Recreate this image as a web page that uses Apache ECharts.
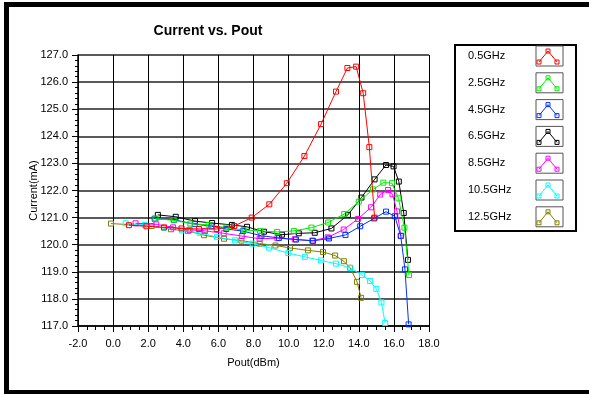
<!DOCTYPE html>
<html>
<head>
<meta charset="utf-8">
<script src="https://cdn.jsdelivr.net/npm/echarts@6/dist/echarts.min.js"></script>
<style>
  html, body { margin: 0; padding: 0; background: #ffffff; }
  #chart { width: 589px; height: 394px; }
</style>
</head>
<body>
<div id="chart"></div>
<script>
// Frequency sweep: supply current against output power
const seriesNames = ['0.5GHz', '2.5GHz', '4.5GHz', '6.5GHz', '8.5GHz', '10.5GHz', '12.5GHz'];
const seriesColors = ['#ff0000', '#00ee00', '#0030ff', '#000000', '#ff00ff', '#00ffff', '#808000'];

const pout_0_5 = [0.9, 1.9, 2.9, 3.9, 4.9, 5.9, 6.9, 7.9, 8.9, 9.9, 10.9, 11.85, 12.7, 13.35, 13.85, 14.25, 14.6, 14.9];
const current_0_5 = [120.72, 120.68, 120.64, 120.6, 120.58, 120.58, 120.69, 121.0, 121.49, 122.27, 123.27, 124.45, 125.65, 126.52, 126.57, 125.59, 123.6, 121.0];

const pout_2_5 = [2.42, 3.45, 4.4, 5.45, 6.45, 7.44, 8.37, 9.35, 10.3, 11.3, 12.25, 13.17, 14.0, 14.81, 15.4, 15.89, 16.26, 16.6, 16.86];
const current_2_5 = [120.96, 120.9, 120.78, 120.73, 120.63, 120.54, 120.51, 120.47, 120.51, 120.63, 120.82, 121.13, 121.59, 122.04, 122.29, 122.27, 121.71, 120.63, 118.88];

const pout_4_5 = [2.37, 3.47, 4.65, 5.6, 6.45, 7.4, 8.45, 9.45, 10.42, 11.39, 12.3, 13.24, 14.08, 14.87, 15.55, 16.05, 16.39, 16.63, 16.84];
const current_4_5 = [120.96, 120.92, 120.76, 120.68, 120.58, 120.5, 120.33, 120.25, 120.19, 120.14, 120.23, 120.36, 120.68, 120.97, 121.22, 121.05, 120.33, 119.09, 117.06];

const pout_6_5 = [2.55, 3.57, 4.67, 5.64, 6.77, 7.63, 8.6, 9.62, 10.58, 11.49, 12.44, 13.38, 14.15, 14.9, 15.55, 15.98, 16.28, 16.56, 16.8];
const current_6_5 = [121.1, 121.03, 120.87, 120.8, 120.73, 120.66, 120.48, 120.37, 120.42, 120.44, 120.6, 121.1, 121.74, 122.41, 122.94, 122.89, 122.33, 121.17, 119.44];

const pout_8_5 = [1.28, 2.46, 3.42, 4.35, 5.24, 6.3, 7.33, 8.35, 9.36, 10.35, 11.35, 12.23, 13.14, 13.95, 14.7, 15.22, 15.67, 15.92, 16.18, 16.4];
const current_8_5 = [120.79, 120.75, 120.64, 120.55, 120.51, 120.42, 120.32, 120.22, 120.24, 120.2, 120.15, 120.27, 120.56, 120.95, 121.38, 121.85, 122.02, 121.86, 121.23, 120.32];

const pout_10_5 = [0.72, 1.8, 2.9, 3.91, 4.93, 5.92, 6.95, 7.95, 8.88, 9.98, 10.93, 11.85, 12.7, 13.52, 14.18, 14.64, 15.0, 15.29, 15.5];
const current_10_5 = [120.79, 120.73, 120.62, 120.53, 120.44, 120.28, 120.16, 120.04, 119.89, 119.69, 119.55, 119.42, 119.3, 119.14, 118.88, 118.66, 118.37, 117.87, 117.11];

const pout_12_5 = [-0.12, 2.2, 3.3, 4.27, 5.18, 6.32, 7.31, 8.35, 9.25, 10.08, 11.1, 11.96, 12.65, 13.15, 13.5, 13.9, 14.13];
const current_12_5 = [120.78, 120.69, 120.57, 120.51, 120.35, 120.22, 120.15, 120.04, 119.97, 119.88, 119.79, 119.73, 119.6, 119.39, 119.15, 118.63, 118.04];

const poutSets = [pout_0_5, pout_2_5, pout_4_5, pout_6_5, pout_8_5, pout_10_5, pout_12_5];
const currentSets = [current_0_5, current_2_5, current_4_5, current_6_5, current_8_5, current_10_5, current_12_5];

const xTicks = [-2, 0, 2, 4, 6, 8, 10, 12, 14, 16, 18];
const yTicks = [117, 118, 119, 120, 121, 122, 123, 124, 125, 126, 127];

const FONT = '"Liberation Sans", Arial, sans-serif';

// Lines with hollow square markers; the lowest frequency is drawn last (on top)
const series = seriesNames.map((name, i) => ({
  name: name,
  type: 'line',
  data: poutSets[i].map((p, k) => [p, currentSets[i][k]]),
  symbol: 'rect',
  symbolSize: 5,
  showSymbol: true,
  z: 10 - i,
  lineStyle: { color: seriesColors[i], width: 1 },
  itemStyle: { color: 'rgba(255,255,255,0)', borderColor: seriesColors[i], borderWidth: 1 },
  emphasis: { disabled: true },
  animation: false
}));

// Custom legend panel: name plus a small sample trace per series
const legendTop = 56;
const legendStep = 26.8;
const legendGraphics = [{
  type: 'rect',
  shape: { x: 455, y: 45, width: 121, height: 186 },
  style: { fill: '#ffffff', stroke: '#000000', lineWidth: 2 }
}];
seriesNames.forEach((name, i) => {
  const cy = legendTop + i * legendStep;
  const c = seriesColors[i];
  legendGraphics.push({
    type: 'text',
    style: { text: name, x: 468, y: cy, textVerticalAlign: 'middle', verticalAlign: 'middle',
             font: '11px ' + FONT, fill: '#000000' }
  });
  legendGraphics.push({
    type: 'rect',
    shape: { x: 536, y: cy - 10, width: 27, height: 20 },
    style: { fill: '#ffffff', stroke: '#555555', lineWidth: 1 }
  });
  const pts = [[539, cy + 6], [548, cy - 5], [557, cy + 6]];
  legendGraphics.push({
    type: 'polyline',
    shape: { points: pts },
    style: { stroke: c, lineWidth: 1, fill: null }
  });
  pts.forEach(p => {
    legendGraphics.push({
      type: 'rect',
      shape: { x: p[0] - 2, y: p[1] - 2, width: 4, height: 4 },
      style: { fill: 'none', stroke: c, lineWidth: 1 }
    });
  });
});

const chart = echarts.init(document.getElementById('chart'), null, { renderer: 'canvas' });
chart.setOption({
  backgroundColor: '#ffffff',
  animation: false,
  grid: { left: 78, right: 160, top: 55, bottom: 68, containLabel: false },
  xAxis: {
    type: 'value',
    min: xTicks[0],
    max: xTicks[xTicks.length - 1],
    interval: xTicks[1] - xTicks[0],
    name: 'Pout(dBm)',
    nameLocation: 'middle',
    nameGap: 31,
    nameMoveOverlap: false,
    nameTextStyle: { fontFamily: FONT, fontSize: 11, color: '#000' },
    axisLine: { show: true, onZero: false, lineStyle: { color: '#000', width: 1.5 } },
    axisTick: { show: true, length: 6, lineStyle: { color: '#000', width: 1 } },
    minorTick: { show: true, splitNumber: 4, length: 4, lineStyle: { color: '#000', width: 1 } },
    axisLabel: { margin: 12, fontFamily: FONT, fontSize: 11, color: '#000',
                 formatter: v => v.toFixed(1) },
    splitLine: { show: true, lineStyle: { color: '#000', width: 1 } }
  },
  yAxis: {
    type: 'value',
    min: yTicks[0],
    max: yTicks[yTicks.length - 1],
    interval: yTicks[1] - yTicks[0],
    name: 'Current(mA)',
    nameLocation: 'middle',
    nameGap: 39,
    nameMoveOverlap: false,
    nameRotate: 90,
    nameTextStyle: { fontFamily: FONT, fontSize: 11, color: '#000' },
    axisLine: { show: true, onZero: false, lineStyle: { color: '#000', width: 1.5 } },
    axisTick: { show: true, length: 6, lineStyle: { color: '#000', width: 1 } },
    minorTick: { show: true, splitNumber: 5, length: 3, lineStyle: { color: '#000', width: 1 } },
    axisLabel: { margin: 10, fontFamily: FONT, fontSize: 11, color: '#000',
                 formatter: v => v.toFixed(1) },
    splitLine: { show: true, lineStyle: { color: '#5a5a5a', width: 2 } }
  },
  graphic: [
    {
      type: 'rect',
      shape: { x: 6.5, y: 4.5, width: 600, height: 388 },
      style: { fill: 'none', stroke: '#000000', lineWidth: 5 },
      z: 100
    },
    {
      type: 'text',
      style: { text: 'Current vs. Pout', x: 208, y: 31, textAlign: 'center', align: 'center',
               textVerticalAlign: 'middle', verticalAlign: 'middle',
               font: 'bold 14px ' + FONT, fill: '#000000' }
    }
  ].concat(legendGraphics),
  series: series
});
</script>
</body>
</html>
